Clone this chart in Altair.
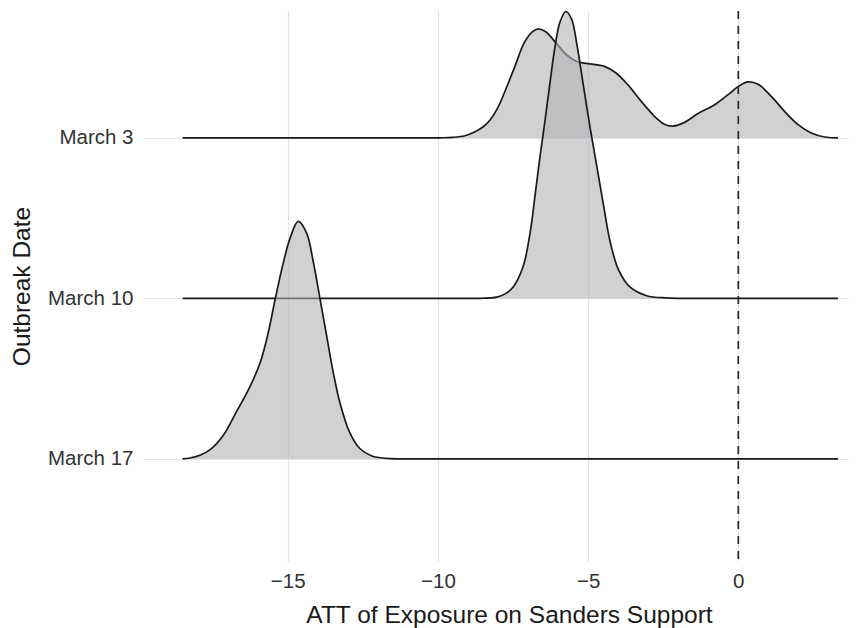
import altair as alt
import pandas as pd

# Ridge categories (top to bottom) and their baseline positions
dates = ["March 3", "March 10", "March 17"]
bases = [2, 1, 0]

# Density heights (in units of ridge spacing)
march3_x = [-18.5, -15.0, -12.0, -10.5, -9.9, -9.5, -9.1, -8.8, -8.5, -8.25, -8.0, -7.79,
            -7.45, -7.12, -6.84, -6.64, -6.4, -6.07, -5.73, -5.4, -5.01, -4.46, -4.07, -3.68,
            -3.23, -2.79, -2.46, -2.18, -1.79, -1.34, -0.79, -0.34, 0.04, 0.32, 0.66, 1.1,
            1.54, 1.99, 2.43, 2.88, 3.32]
march3_h = [0, 0, 0, 0, 0.001, 0.004, 0.014, 0.035, 0.068, 0.115, 0.19, 0.28,
            0.44, 0.595, 0.664, 0.679, 0.66, 0.592, 0.52, 0.478, 0.463, 0.446, 0.405, 0.332,
            0.228, 0.135, 0.086, 0.074, 0.097, 0.152, 0.207, 0.27, 0.326, 0.349, 0.334, 0.259,
            0.166, 0.083, 0.031, 0.006, 0]

march10_x = [-18.5, -15.0, -12.0, -9.5, -8.6, -8.04, -7.75, -7.48, -7.16, -6.93, -6.77, -6.6,
             -6.43, -6.27, -6.1, -5.94, -5.74, -5.55, -5.38, -5.16, -4.94, -4.71, -4.49, -4.27,
             -3.99, -3.6, -3.05, -2.38, -1.6, 0.0, 3.32]
march10_h = [0, 0, 0, 0, 0.001, 0.008, 0.03, 0.075, 0.20, 0.41, 0.636, 0.885,
             1.114, 1.342, 1.57, 1.72, 1.788, 1.741, 1.59, 1.33, 1.07, 0.823, 0.585, 0.356,
             0.18, 0.07, 0.017, 0.003, 0, 0, 0]

march17_x = [-18.5, -18.25, -17.9, -17.58, -17.13, -16.7, -16.31, -15.92, -15.65, -15.42,
             -15.15, -14.92, -14.65, -14.37, -14.15, -13.92, -13.7, -13.48, -13.26, -12.93,
             -12.6, -12.2, -11.7, -10.5, -8.0, -4.0, 0.0, 3.32]
march17_h = [0, 0.006, 0.025, 0.058, 0.151, 0.296, 0.43, 0.598, 0.785, 0.992,
             1.22, 1.376, 1.48, 1.407, 1.23, 0.992, 0.763, 0.535, 0.349, 0.162,
             0.065, 0.018, 0.003, 0, 0, 0, 0, 0]

x_ticks = [-15, -10, -5, 0]
ref_line = [0]

series = [(march3_x, march3_h), (march10_x, march10_h), (march17_x, march17_h)]
rows = []
for d, b, (xs, hs) in zip(dates, bases, series):
    for xv, hv in zip(xs, hs):
        rows.append({"date": d, "base": b, "x": xv, "y": b + hv})
df = pd.DataFrame(rows)

FONT = "Liberation Sans"

X = alt.X("x:Q",
          scale=alt.Scale(domain=[-19.817, 3.685], nice=False, zero=False),
          axis=alt.Axis(values=x_ticks, title="ATT of Exposure on Sanders Support",
                        grid=True, gridColor="#e3e3e3", gridWidth=1.2,
                        ticks=False, domain=False,
                        labelFont=FONT, labelFontSize=20.5, labelColor="#333333",
                        labelPadding=10,
                        titleFont=FONT, titleFontSize=24.5, titleFontWeight="normal",
                        titleColor="#1a1a1a", titleX=366, titleY=61,
                        titleBaseline="alphabetic", titleAlign="center"))

Y = alt.Y("y:Q",
          scale=alt.Scale(domain=[-0.636, 2.791], nice=False, zero=False),
          axis=alt.Axis(values=bases,
                        labelExpr="datum.value == 2 ? 'March 3' : (datum.value == 1 ? 'March 10' : 'March 17')",
                        title="Outbreak Date",
                        grid=True, gridColor="#e3e3e3", gridWidth=1.2,
                        ticks=False, domain=False,
                        labelFont=FONT, labelFontSize=20.5, labelColor="#333333",
                        labelPadding=10,
                        titleFont=FONT, titleFontSize=24.5, titleFontWeight="normal",
                        titleColor="#1a1a1a", titleAngle=270, titleX=-113.5, titleY=275,
                        titleBaseline="alphabetic", titleAlign="center"))

layers = []
for d in dates:
    sub = alt.Chart(df).transform_filter(alt.datum.date == d)
    area = sub.mark_area(color="#b0b2b6", opacity=0.6, interpolate="catmull-rom").encode(
        x=X, y=Y, y2="base:Q")
    line = sub.mark_line(color="#1a1a1a", strokeWidth=1.7, interpolate="catmull-rom").encode(
        x=X, y=Y)
    layers += [area, line]

rule = alt.Chart(pd.DataFrame({"x": ref_line})).mark_rule(
    color="#2a2a2a", strokeWidth=1.7, strokeDash=[8, 7]).encode(x=X)
layers.append(rule)

chart = alt.layer(*layers).properties(
    width=706, height=550,
    autosize=alt.AutoSizeParams(type="none"),
    padding={"left": 135, "top": 3, "right": 0, "bottom": 67},
).configure_view(stroke=None)

chart.save("out.html", embed_options={"renderer": "svg", "actions": False})
